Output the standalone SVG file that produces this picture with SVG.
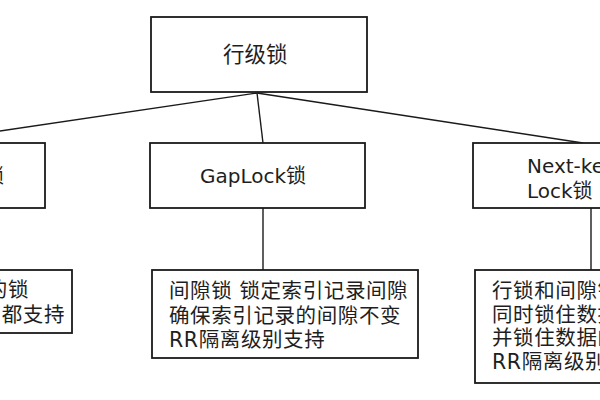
<svg xmlns="http://www.w3.org/2000/svg" width="600" height="400" viewBox="0 0 600 400">
<style>
.box{fill:#fff;stroke:#1a1a1a;stroke-width:1.8}
.lbl{font-family:"DejaVu Sans","Noto Sans CJK SC",sans-serif;font-size:20px;fill:#1e1e1e}
.txt{font-family:"DejaVu Sans","Noto Sans CJK SC",sans-serif;font-size:20.5px;letter-spacing:0.6px;fill:#1e1e1e}
.edge{stroke:#1a1a1a;stroke-width:1.4;fill:none}
</style>
<rect width="600" height="400" fill="#fff"/>
<g id="connectors">
<line class="edge" x1="257" y1="93" x2="-81" y2="143"/>
<line class="edge" x1="257" y1="93" x2="263" y2="143"/>
<line class="edge" x1="257" y1="93" x2="583" y2="143"/>
<line class="edge" x1="263" y1="208" x2="263" y2="270"/>
<line class="edge" x1="591" y1="208" x2="591" y2="270"/>
</g>
<g id="root">
<rect class="box" x="151" y="17" width="216" height="75"/>
<text class="lbl" x="223" y="62" style="font-size:21.5px">行级锁</text>
</g>
<g id="recordlock">
<rect class="box" x="-170" y="143" width="215" height="65"/>
<text class="lbl" x="4" y="183" text-anchor="end">锁</text>
</g>
<g id="gaplock">
<rect class="box" x="150" y="143" width="215" height="65"/>
<text class="lbl" x="200" y="183">GapLock锁</text>
</g>
<g id="nextkey">
<rect class="box" x="473" y="143" width="215" height="65"/>
<text class="lbl" x="527" y="173">Next-key</text>
<text class="lbl" x="527" y="198">Lock锁</text>
</g>
<g id="recordlock-desc">
<rect class="box" x="-200" y="270" width="272" height="63"/>
<text class="txt" x="29" y="297" text-anchor="end">的锁</text>
<text class="txt" x="65" y="322" text-anchor="end">都支持</text>
</g>
<g id="gaplock-desc">
<rect class="box" x="152" y="270" width="266" height="88"/>
<text class="txt" x="169" y="298">间隙锁 锁定索引记录间隙</text>
<text class="txt" x="169" y="322.5">确保索引记录的间隙不变</text>
<text class="txt" x="169" y="347">RR隔离级别支持</text>
</g>
<g id="nextkey-desc">
<rect class="box" x="475" y="270" width="200" height="113"/>
<text class="txt" x="492" y="298">行锁和间隙锁</text>
<text class="txt" x="492" y="321.5">同时锁住数据</text>
<text class="txt" x="492" y="345">并锁住数据的</text>
<text class="txt" x="492" y="369">RR隔离级别支持</text>
</g>
</svg>
